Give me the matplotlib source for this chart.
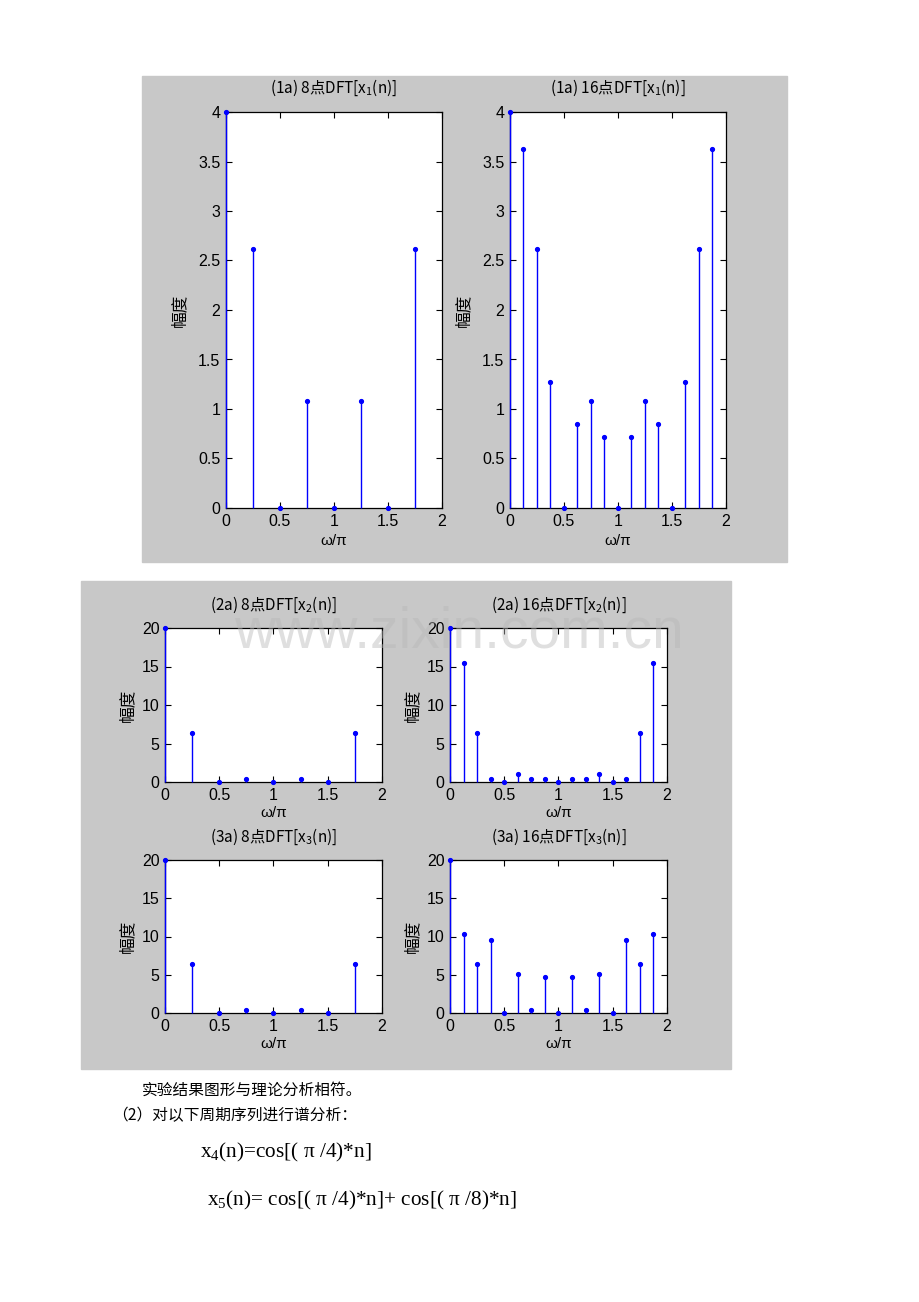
import matplotlib.pyplot as plt
from matplotlib.patches import Rectangle

plt.rcParams['mathtext.fontset'] = 'custom'
plt.rcParams['mathtext.default'] = 'regular'

# frequency points (w/pi)
w8 = [0, 0.25, 0.5, 0.75, 1, 1.25, 1.5, 1.75]
w16 = [0, 0.125, 0.25, 0.375, 0.5, 0.625, 0.75, 0.875,
       1, 1.125, 1.25, 1.375, 1.5, 1.625, 1.75, 1.875]

# DFT magnitudes
x1_8 = [4, 2.62, 0, 1.08, 0, 1.08, 0, 2.62]
x1_16 = [4, 3.63, 2.62, 1.27, 0, 0.85, 1.08, 0.72,
         0, 0.72, 1.08, 0.85, 0, 1.27, 2.62, 3.63]
x2_8 = [20, 6.35, 0, 0.45, 0, 0.45, 0, 6.35]
x2_16 = [20, 15.5, 6.35, 0.45, 0, 1.05, 0.45, 0.45,
         0, 0.45, 0.45, 1.05, 0, 0.45, 6.35, 15.5]
x3_8 = [20, 6.35, 0, 0.45, 0, 0.45, 0, 6.35]
x3_16 = [20, 10.3, 6.35, 9.5, 0, 5.1, 0.45, 4.7,
         0, 4.7, 0.45, 5.1, 0, 9.5, 6.35, 10.3]

xticks = [0, 0.5, 1, 1.5, 2]
xticklabels = ['0', '0.5', '1', '1.5', '2']
yticks1 = [0, 0.5, 1, 1.5, 2, 2.5, 3, 3.5, 4]
yticklabels1 = ['0', '0.5', '1', '1.5', '2', '2.5', '3', '3.5', '4']
yticks2 = [0, 5, 10, 15, 20]
yticklabels2 = ['0', '5', '10', '15', '20']

W, H = 920, 1302
fig = plt.figure(figsize=(W / 100, H / 100), dpi=100)
fig.patch.set_facecolor('white')

CJK = 'Noto Sans CJK SC'
SANS = 'Liberation Sans'


def bg(l, t, r, b):
    fig.add_artist(Rectangle((l / W, 1 - b / H), (r - l) / W, (b - t) / H,
                             transform=fig.transFigure, color='#c8c8c8',
                             zorder=0))


def px_axes(l, t, r, b):
    return fig.add_axes([l / W, 1 - b / H, (r - l) / W, (b - t) / H])


def lab(ax, xf, yf, dx, dy, s, **kw):
    ax.annotate(s, (xf, yf), xycoords='axes fraction', xytext=(dx, dy),
                textcoords='offset pixels', ha='center', va='center',
                annotation_clip=False, **kw)


def draw(ax, w, mag, title, ymax, yt, ytl, title_dy, xl_dy, yl_dx):
    ml, sl, bl = ax.stem(w, mag, linefmt='b-', markerfmt='b.', basefmt=' ')
    plt.setp(sl, linewidth=1.0, clip_on=False, zorder=3, color='#0000ff')
    plt.setp(ml, markersize=5.5, clip_on=False, zorder=4, color='#0000ff')
    ax.set_xlim(0, 2)
    ax.set_ylim(0, ymax)
    ax.set_xticks(xticks)
    ax.set_xticklabels(xticklabels)
    ax.set_yticks(yt)
    ax.set_yticklabels(ytl)
    ax.tick_params(direction='in', length=4, top=True, right=True,
                   labelsize=11.5, pad=4, width=0.8)
    for t in ax.get_xticklabels() + ax.get_yticklabels():
        t.set_fontfamily(SANS)
    for s in ax.spines.values():
        s.set_linewidth(0.9)
    lab(ax, 0.5, 1, 0, title_dy, title, fontsize=11, fontfamily=CJK)
    lab(ax, 0.5, 0, 0, xl_dy, 'ω/π', fontsize=11, fontfamily=SANS)
    lab(ax, 0, 0.5, yl_dx, 0, '幅度', fontsize=12, fontfamily=CJK,
        rotation=90)


# first figure
bg(142, 76, 787, 562)
a = px_axes(226, 112, 442, 508)
draw(a, w8, x1_8, '(1a) 8点DFT[x$_1$(n)]', 4, yticks1, yticklabels1, 24, -33, -46)
a = px_axes(510, 112, 726, 508)
draw(a, w16, x1_16, '(1a) 16点DFT[x$_1$(n)]', 4, yticks1, yticklabels1, 24, -33, -46)

# second figure
bg(81, 581, 731, 1069)
a = px_axes(165, 628, 382, 782)
draw(a, w8, x2_8, '(2a) 8点DFT[x$_2$(n)]', 20, yticks2, yticklabels2, 23, -31, -37)
a = px_axes(450, 628, 667, 782)
draw(a, w16, x2_16, '(2a) 16点DFT[x$_2$(n)]', 20, yticks2, yticklabels2, 23, -31, -37)
a = px_axes(165, 860, 382, 1013)
draw(a, w8, x3_8, '(3a) 8点DFT[x$_3$(n)]', 20, yticks2, yticklabels2, 23, -31, -37)
a = px_axes(450, 860, 667, 1013)
draw(a, w16, x3_16, '(3a) 16点DFT[x$_3$(n)]', 20, yticks2, yticklabels2, 23, -31, -37)

# watermark
fig.text(459 / W, 1 - 633 / H, 'www.zixin.com.cn', fontsize=41,
         fontfamily=SANS, color='#b8b8b8', alpha=0.45, ha='center',
         va='center', zorder=10)

# document text
fig.text(142 / W, 1 - 1090 / H, '实验结果图形与理论分析相符。', fontsize=11.3,
         fontfamily=CJK, va='center')
fig.text(112 / W, 1 - 1116 / H, '（2）对以下周期序列进行谱分析：', fontsize=11.3,
         fontfamily=CJK, va='center')
fig.text(200 / W, 1 - 1152 / H, 'x$_4$(n)=cos[( π /4)*n]', fontsize=15.3,
         fontfamily='Liberation Serif', va='center')
fig.text(207 / W, 1 - 1200 / H, 'x$_5$(n)= cos[( π /4)*n]+ cos[( π /8)*n]',
         fontsize=15.3, fontfamily='Liberation Serif', va='center')

fig.savefig('out.png', dpi=100)
